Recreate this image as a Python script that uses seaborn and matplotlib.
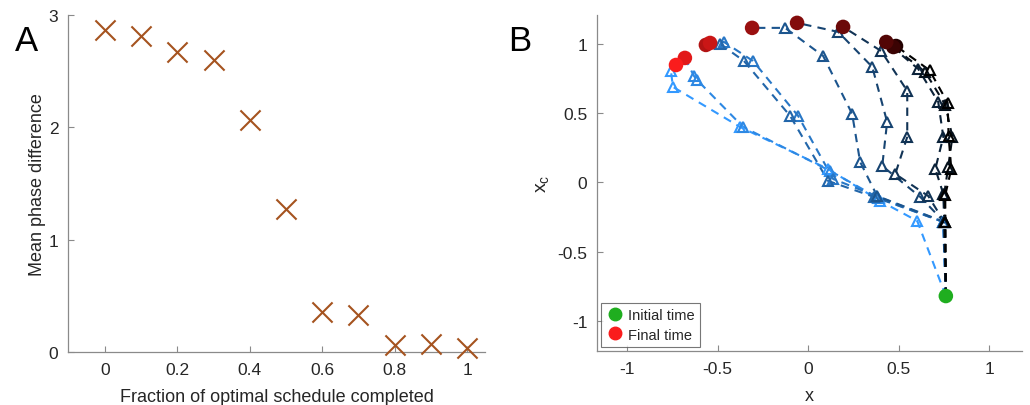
import numpy as np
import pandas as pd
import matplotlib
matplotlib.use("Agg")
import matplotlib.pyplot as plt
import seaborn as sns
from matplotlib.lines import Line2D

# Panel A: mean phase difference vs fraction of optimal schedule
frac = [0.0, 0.1, 0.2, 0.3, 0.4, 0.5, 0.6, 0.7, 0.8, 0.9, 1.0]
phase_diff = [2.87, 2.81, 2.67, 2.60, 2.07, 1.27, 0.36, 0.33, 0.06, 0.07, 0.04]

# Panel B: trajectories in (x, x_c), from initial point to final point
x_init, xc_init = 0.76, -0.82
traj_x = [
    [0.76, 0.602, 0.398, 0.110, -0.376, -0.746, -0.757, -0.729],
    [0.76, 0.745, 0.387, 0.122, -0.359, -0.613, -0.630, -0.680],
    [0.76, 0.745, 0.376, 0.138, -0.055, -0.304, -0.464, -0.541],
    [0.76, 0.748, 0.365, 0.110, -0.099, -0.354, -0.486, -0.564],
    [0.76, 0.751, 0.381, 0.287, 0.243, 0.083, -0.127, -0.309],
    [0.76, 0.751, 0.619, 0.409, 0.436, 0.354, 0.166, -0.061],
    [0.76, 0.751, 0.663, 0.481, 0.547, 0.547, 0.403, 0.193],
    [0.76, 0.751, 0.746, 0.702, 0.746, 0.718, 0.608, 0.431],
    [0.76, 0.757, 0.751, 0.773, 0.796, 0.757, 0.646, 0.470],
    [0.76, 0.757, 0.757, 0.790, 0.775, 0.770, 0.670, 0.485],
]
traj_y = [
    [-0.82, -0.278, -0.134, 0.097, 0.401, 0.690, 0.805, 0.848],
    [-0.82, -0.285, -0.112, 0.083, 0.401, 0.740, 0.769, 0.899],
    [-0.82, -0.285, -0.098, 0.025, 0.480, 0.877, 1.014, 1.007],
    [-0.82, -0.285, -0.105, 0.011, 0.480, 0.877, 1.000, 0.993],
    [-0.82, -0.285, -0.098, 0.148, 0.495, 0.913, 1.116, 1.116],
    [-0.82, -0.285, -0.105, 0.119, 0.437, 0.834, 1.087, 1.152],
    [-0.82, -0.285, -0.098, 0.061, 0.329, 0.661, 0.949, 1.123],
    [-0.82, -0.285, -0.083, 0.098, 0.329, 0.581, 0.819, 1.014],
    [-0.82, -0.285, -0.083, 0.112, 0.329, 0.560, 0.798, 0.978],
    [-0.82, -0.285, -0.090, 0.098, 0.335, 0.575, 0.810, 0.985],
]

sns.set_theme(style="ticks")
plt.rcParams['font.family'] = ['Liberation Sans', 'DejaVu Sans']
axis_gray = '#8a8a8a'
text_gray = '#262626'

fig = plt.figure(figsize=(10.3, 4.06), dpi=100)
axA = fig.add_axes([0.066, 0.1305, 0.405, 0.830])
axB = fig.add_axes([0.5796, 0.133, 0.4126, 0.8276])

# ---- panel A
sns.scatterplot(x=frac, y=phase_diff, marker='x', s=210, color='#a5531f',
                linewidth=1.5, clip_on=False, zorder=5, ax=axA)
axA.set_xlim(-0.102, 1.05)
axA.set_ylim(0, 3)
axA.set_xticks([0, 0.2, 0.4, 0.6, 0.8, 1])
axA.set_xticklabels(['0', '0.2', '0.4', '0.6', '0.8', '1'])
axA.set_yticks([0, 1, 2, 3])
axA.set_xlabel('Fraction of optimal schedule completed', fontsize=13, color=text_gray, labelpad=8)
axA.set_ylabel('Mean phase difference', fontsize=13, color=text_gray, labelpad=2)

# ---- panel B
n = len(traj_x)
light = np.array([51, 153, 255]) / 255
red_hi = np.array([250, 28, 28]) / 255
red_lo = np.array([35, 0, 0]) / 255
for i in range(n):
    t = i / (n - 1)
    c = tuple(light * (1 - t))
    df = pd.DataFrame({'x': traj_x[i], 'xc': traj_y[i]})
    sns.lineplot(data=df, x='x', y='xc', sort=False, estimator=None, color=c,
                 linestyle=(0, (4, 3)), linewidth=1.5, ax=axB, zorder=2)
    mid = df.iloc[1:-1]
    sns.lineplot(data=mid, x='x', y='xc', sort=False, estimator=None, color=c,
                 linestyle='none', marker='^', markersize=7.5, markerfacecolor='none',
                 markeredgecolor=c, markeredgewidth=1.5, ax=axB, zorder=3)
for i in reversed(range(n)):
    t = i / (n - 1)
    fc = tuple(red_hi * (1 - t) + red_lo * t)
    sns.scatterplot(x=[traj_x[i][-1]], y=[traj_y[i][-1]], color=fc, s=110,
                    edgecolor='none', ax=axB, zorder=4)
sns.scatterplot(x=[x_init], y=[xc_init], color='#1fae1f', s=110, edgecolor='none',
                ax=axB, zorder=4)

axB.set_xlim(-1.165, 1.18)
axB.set_ylim(-1.217, 1.209)
axB.set_xticks([-1, -0.5, 0, 0.5, 1])
axB.set_xticklabels(['-1', '-0.5', '0', '0.5', '1'])
axB.set_yticks([-1, -0.5, 0, 0.5, 1])
axB.set_yticklabels(['-1', '-0.5', '0', '0.5', '1'])
axB.set_xlabel('x', fontsize=13, color=text_gray, labelpad=8)
axB.set_ylabel('x$_\\mathregular{c}$', fontsize=14, color=text_gray, labelpad=4)

handles = [Line2D([], [], marker='o', linestyle='none', color='#1fae1f', markersize=9),
           Line2D([], [], marker='o', linestyle='none', color='#fa1c1c', markersize=9)]
leg = axB.legend(handles, ['Initial time', 'Final time'], loc='lower left',
                 fontsize=10.5, frameon=True, fancybox=False, borderaxespad=0.3,
                 handletextpad=0.3, borderpad=0.35, labelspacing=0.35, handlelength=1.2)
leg.get_frame().set_edgecolor('#555555')
leg.get_frame().set_linewidth(0.8)

for ax in (axA, axB):
    sns.despine(ax=ax)
    for s in ('left', 'bottom'):
        ax.spines[s].set_color(axis_gray)
        ax.spines[s].set_linewidth(0.9)
    ax.tick_params(direction='in', length=4, width=0.8, color=axis_gray,
                   labelsize=12.5, labelcolor=text_gray, pad=7)

fig.text(0.026, 0.898, 'A', fontsize=25, color='black', ha='center', va='center')
fig.text(0.505, 0.898, 'B', fontsize=25, color='black', ha='center', va='center')

fig.savefig('out.png', dpi=100)
